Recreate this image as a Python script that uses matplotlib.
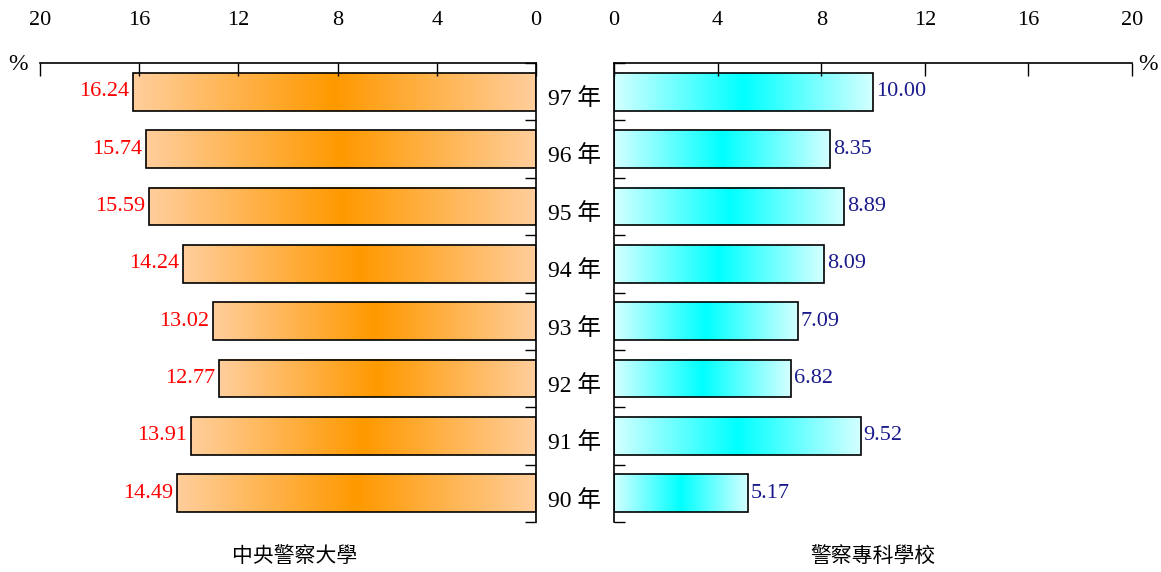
import numpy as np
import matplotlib
matplotlib.use("Agg")
import matplotlib.pyplot as plt
import matplotlib.transforms as mtrans
from matplotlib.colors import LinearSegmentedColormap

plt.rcParams['font.family'] = ['Liberation Serif', 'Noto Sans CJK TC']

# data, top row first
years = ['97', '96', '95', '94', '93', '92', '91', '90']
univ = [16.24, 15.74, 15.59, 14.24, 13.02, 12.77, 13.91, 14.49]
college = [10.00, 8.35, 8.89, 8.09, 7.09, 6.82, 9.52, 5.17]
ticks = [0, 4, 8, 12, 16, 20]

orange = LinearSegmentedColormap.from_list('o', ['#FFCE9C', '#FF9900', '#FFCE9C'])
cyan = LinearSegmentedColormap.from_list('c', ['#D4FFFF', '#00FFFF', '#D4FFFF'])
grad = np.linspace(0, 1, 256).reshape(1, -1)

fig = plt.figure(figsize=(11.61, 5.72), dpi=100)
axL = fig.add_axes([40/1161, 1 - 522/572, 496/1161, 459/572])
axR = fig.add_axes([614/1161, 1 - 522/572, 518/1161, 459/572])

bar_h = 0.66
n = len(years)


def draw(ax, vals, cmap, color, left_side):
    for i, v in enumerate(vals):
        ax.imshow(grad, cmap=cmap, aspect='auto', interpolation='bilinear',
                  extent=[0, v, i + bar_h/2, i - bar_h/2], zorder=1)
    ax.barh(range(n), vals, height=bar_h, facecolor='none',
            edgecolor='black', linewidth=1.2, zorder=2)
    for i, v in enumerate(vals):
        if left_side:
            ax.text(v + 0.15, i, f'{v:.2f}', ha='right', va='center',
                    color=color, fontsize=16)
        else:
            ax.text(v + 0.12, i, f'{v:.2f}', ha='left', va='center',
                    color=color, fontsize=16)
    ax.set_ylim(n - 0.5, -0.5)
    ax.set_xticks(ticks)
    ax.set_xticklabels([str(t) for t in ticks], fontsize=16)
    ax.xaxis.tick_top()
    ax.tick_params(axis='x', direction='in', length=9, width=1, pad=24)
    ax.set_yticks([])
    ax.set_yticks(np.arange(-0.5, n, 1), minor=True)
    ax.tick_params(axis='y', which='minor', direction='in', length=8, width=1)
    ax.spines['bottom'].set_visible(False)
    for s in ax.spines.values():
        s.set_linewidth(1.2)


draw(axL, univ, orange, '#FF0000', True)
axL.set_xlim(20, 0)
axL.spines['left'].set_visible(False)
axL.yaxis.tick_right()
axL.tick_params(axis='y', which='minor', left=False, right=True)

draw(axR, college, cyan, '#1A1A8C', False)
axR.set_xlim(0, 20)
axR.spines['right'].set_visible(False)
axR.yaxis.tick_left()

# year labels between the panels
tr = mtrans.blended_transform_factory(fig.transFigure, axL.transData)
for i, y in enumerate(years):
    axL.text(575/1161, i + 0.13, f'{y} 年', transform=tr, ha='center',
             va='center', fontsize=17, clip_on=False)

fig.text(18/1161, 1 - 65/572, '%', ha='center', va='center', fontsize=17)
fig.text(1148/1161, 1 - 65/572, '%', ha='center', va='center', fontsize=17)

fig.text(295/1161, 1 - 556/572, '中央警察大學', ha='center', va='center',
         fontsize=15, family=['Noto Sans CJK TC'])
fig.text(873/1161, 1 - 556/572, '警察專科學校', ha='center', va='center',
         fontsize=15, family=['Noto Sans CJK TC'])

fig.savefig('out.png', dpi=100)
